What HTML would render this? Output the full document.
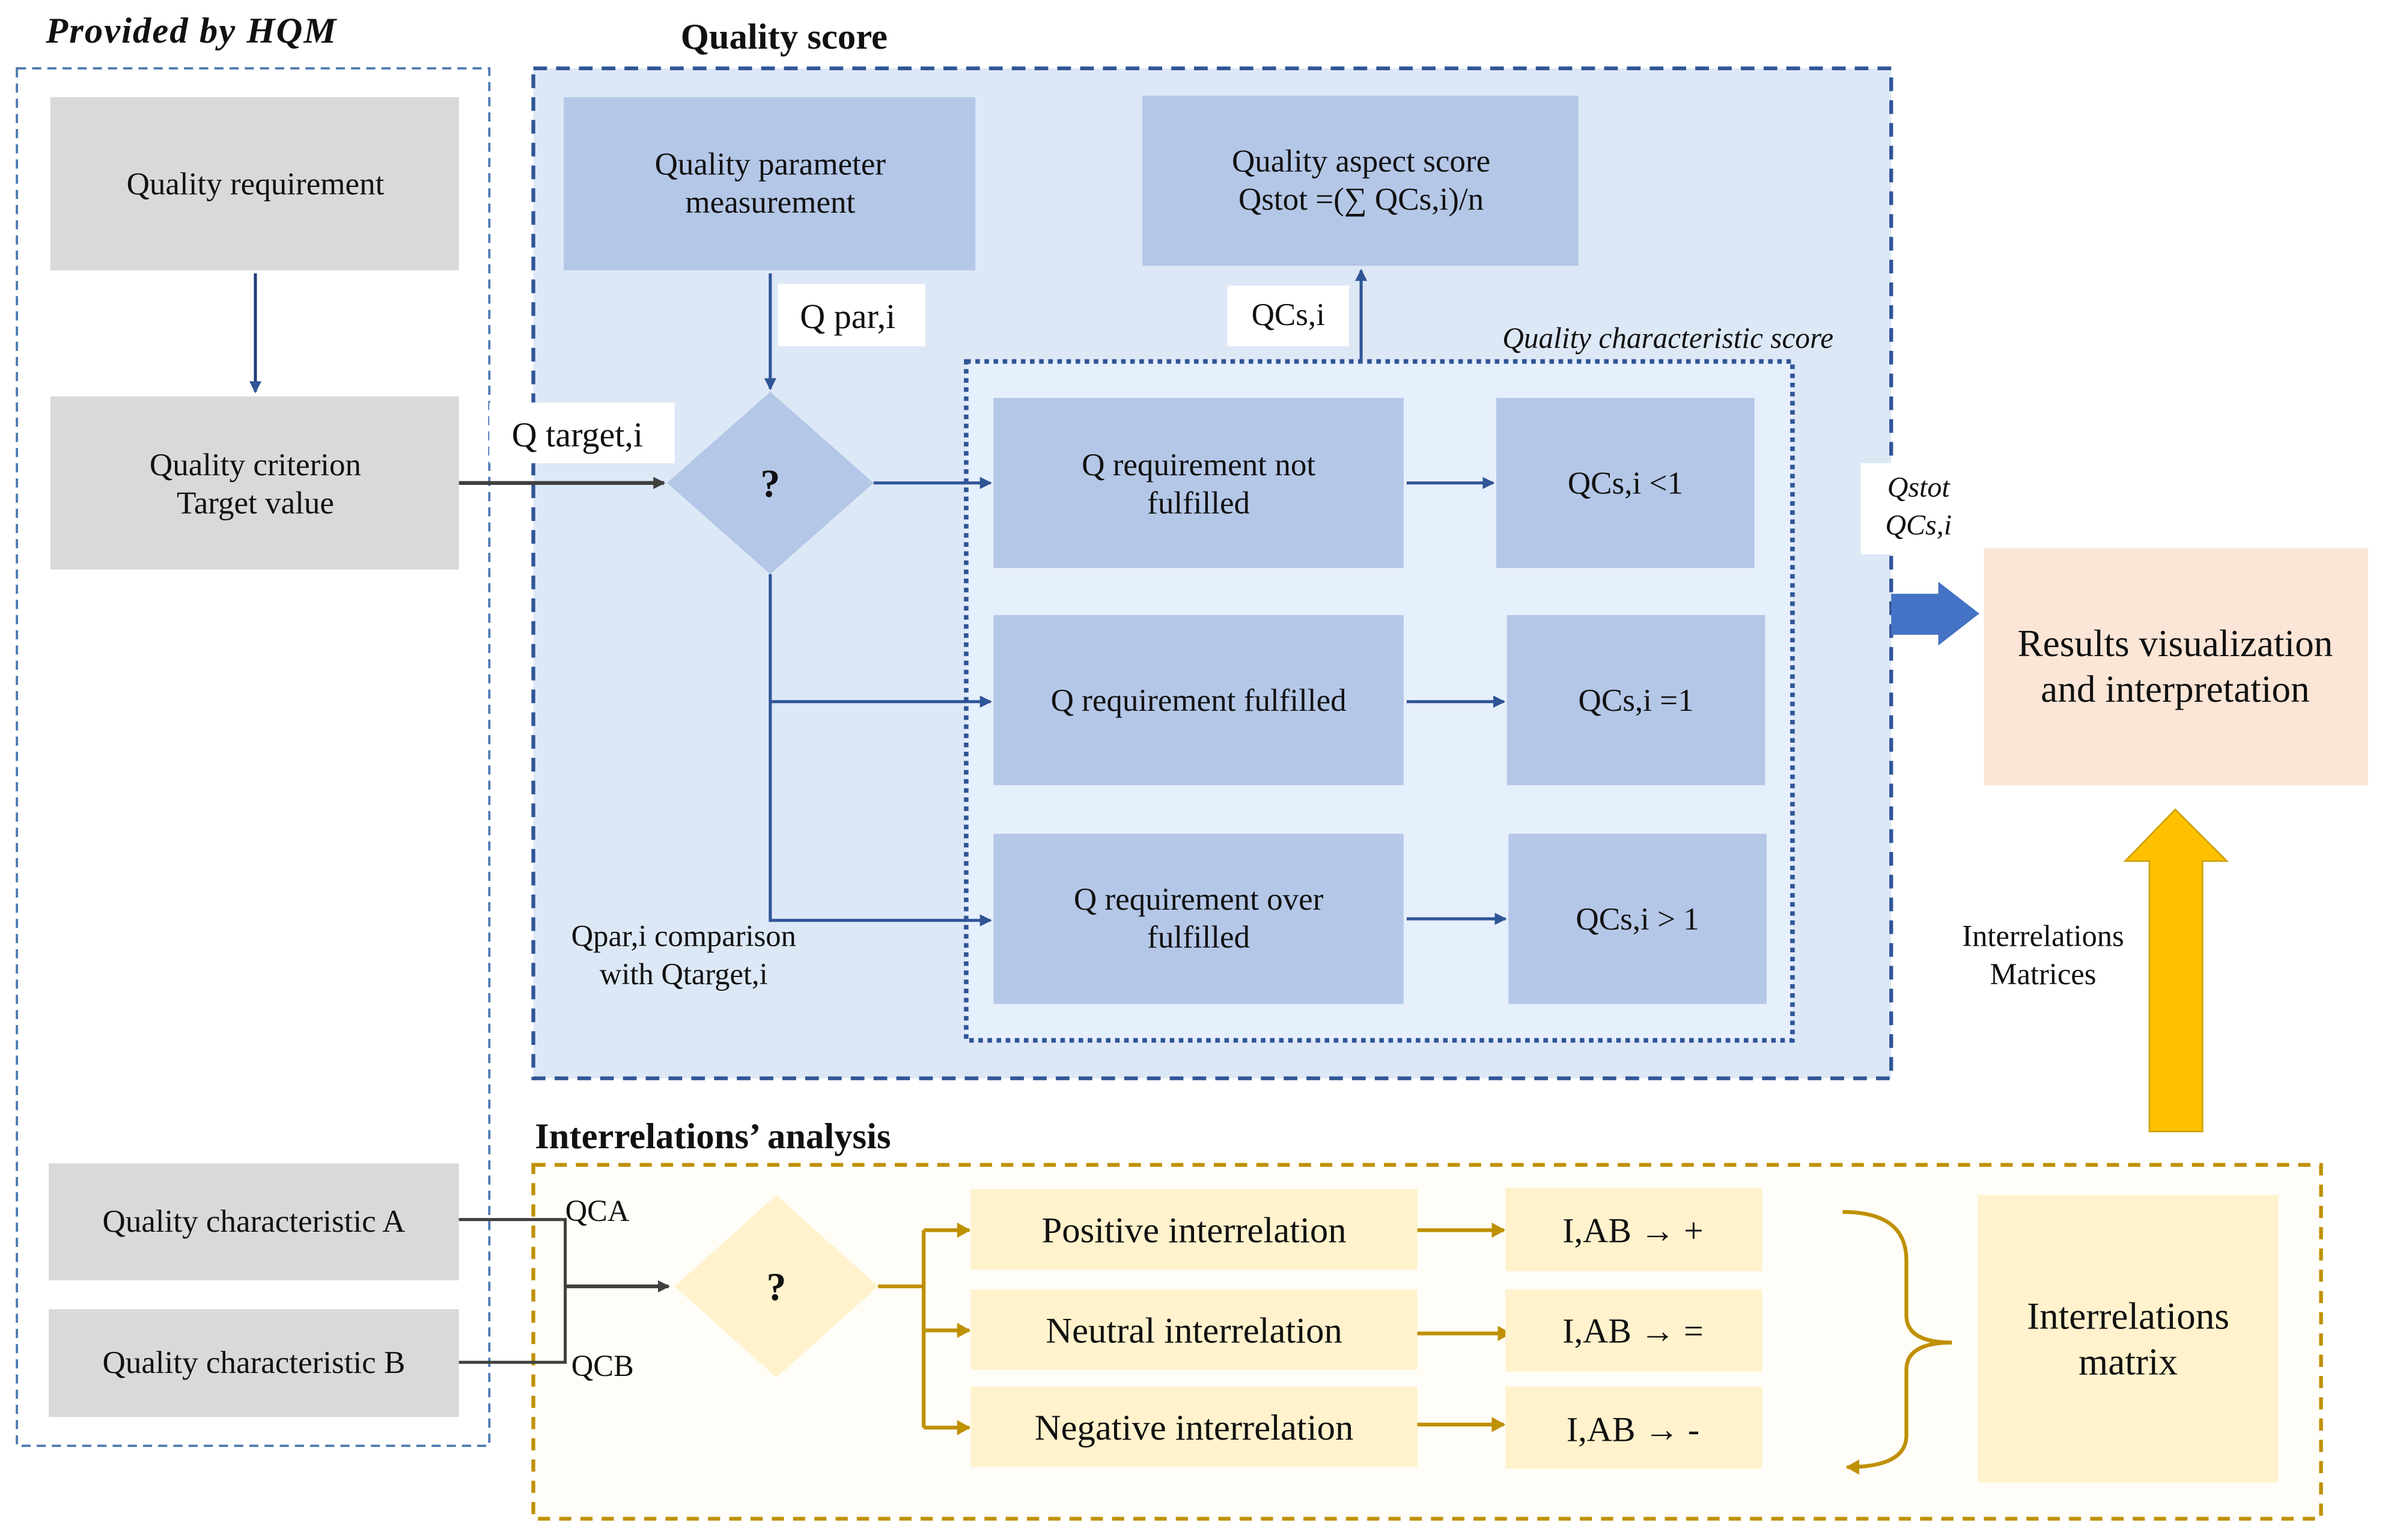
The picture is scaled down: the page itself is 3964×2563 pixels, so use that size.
<!DOCTYPE html>
<html><head><meta charset="utf-8"><style>
html,body{margin:0;padding:0;background:#fff}
svg{display:block}
text{font-family:"Liberation Serif",serif;fill:#111}
</style></head><body>
<svg width="3964" height="2563" viewBox="0 0 1568 1014" xmlns="http://www.w3.org/2000/svg">
<defs>
<marker id="ab" markerWidth="8" markerHeight="8" refX="7" refY="4" orient="auto" markerUnits="userSpaceOnUse"><path d="M0,0 L8,4 L0,8 z" fill="#2f5597"/></marker>
<marker id="ag" markerWidth="8" markerHeight="8" refX="7" refY="4" orient="auto" markerUnits="userSpaceOnUse"><path d="M0,0 L8,4 L0,8 z" fill="#404040"/></marker>
<marker id="ay" markerWidth="9" markerHeight="10" refX="8" refY="5" orient="auto" markerUnits="userSpaceOnUse"><path d="M0,0 L9,5 L0,10 z" fill="#bf9000"/></marker>
</defs>
<text x="30" y="28" font-size="24" font-style="italic" font-weight="bold" letter-spacing="0.8">Provided by HQM</text>
<text x="448" y="32" font-size="24" font-weight="bold">Quality score</text>
<text x="352" y="756" font-size="24" font-weight="bold">Interrelations’ analysis</text>

<rect x="11" y="45" width="311" height="907" fill="none" stroke="#4a7ab0" stroke-width="1.5" stroke-dasharray="6,4"/>
<rect x="351" y="45" width="894" height="665" fill="#dde8f6" stroke="#2f5597" stroke-width="2.5" stroke-dasharray="9,6"/>
<rect x="636" y="238" width="544" height="447" fill="#e6effc" stroke="#2f5597" stroke-width="3" stroke-dasharray="3,3"/>
<text x="1207" y="229" font-size="19.5" font-style="italic" text-anchor="end">Quality characteristic score</text>

<rect x="33" y="64" width="269" height="114" fill="#d9d9d9"/>
<text x="168" y="128" font-size="21" text-anchor="middle">Quality requirement</text>
<line x1="168" y1="180" x2="168" y2="258" stroke="#1f3d7a" stroke-width="2" marker-end="url(#ab)"/>
<rect x="33" y="261" width="269" height="114" fill="#d9d9d9"/>
<text x="168" y="313" font-size="21" text-anchor="middle">Quality criterion</text>
<text x="168" y="338" font-size="21" text-anchor="middle">Target value</text>

<rect x="371" y="64" width="271" height="114" fill="#b4c7e7"/>
<text x="507" y="115" font-size="21" text-anchor="middle">Quality parameter</text>
<text x="507" y="140" font-size="21" text-anchor="middle">measurement</text>
<rect x="752" y="63" width="287" height="112" fill="#b4c7e7"/>
<text x="896" y="113" font-size="21" text-anchor="middle">Quality aspect score</text>
<text x="896" y="138" font-size="21" text-anchor="middle">Qstot =(∑ QCs,i)/n</text>

<line x1="507" y1="180" x2="507" y2="256" stroke="#2f5597" stroke-width="2" marker-end="url(#ab)"/>
<rect x="512" y="187" width="97" height="41" fill="#fff"/>
<text x="558" y="216" font-size="23" text-anchor="middle">Q par,i</text>
<rect x="322" y="265" width="122" height="40" fill="#fff"/>
<line x1="302" y1="318" x2="437" y2="318" stroke="#404040" stroke-width="2.5" marker-end="url(#ag)"/>
<text x="380" y="294" font-size="23" text-anchor="middle">Q target,i</text>
<polygon points="507,258 575,318 507,378 439,318" fill="#b4c7e7"/>
<text x="507" y="327" font-size="26" font-weight="bold" text-anchor="middle">?</text>
<rect x="808" y="188" width="80" height="40" fill="#fff"/>
<text x="848" y="214" font-size="21" text-anchor="middle">QCs,i</text>
<line x1="896" y1="238" x2="896" y2="178" stroke="#2f5597" stroke-width="2" marker-end="url(#ab)"/>

<g stroke="#2f5597" stroke-width="2" fill="none">
<line x1="575" y1="318" x2="652" y2="318" marker-end="url(#ab)"/>
<polyline points="507,378 507,606 652,606" marker-end="url(#ab)"/>
<line x1="507" y1="462" x2="652" y2="462" marker-end="url(#ab)"/>
<line x1="926" y1="318" x2="983" y2="318" marker-end="url(#ab)"/>
<line x1="926" y1="462" x2="990" y2="462" marker-end="url(#ab)"/>
<line x1="926" y1="605" x2="991" y2="605" marker-end="url(#ab)"/>
</g>
<rect x="654" y="262" width="270" height="112" fill="#b4c7e7"/>
<text x="789" y="313" font-size="21" text-anchor="middle">Q requirement not</text>
<text x="789" y="338" font-size="21" text-anchor="middle">fulfilled</text>
<rect x="985" y="262" width="170" height="112" fill="#b4c7e7"/>
<text x="1070" y="325" font-size="21" text-anchor="middle">QCs,i &lt;1</text>
<rect x="654" y="405" width="270" height="112" fill="#b4c7e7"/>
<text x="789" y="468" font-size="21" text-anchor="middle">Q requirement fulfilled</text>
<rect x="992" y="405" width="170" height="112" fill="#b4c7e7"/>
<text x="1077" y="468" font-size="21" text-anchor="middle">QCs,i =1</text>
<rect x="654" y="549" width="270" height="112" fill="#b4c7e7"/>
<text x="789" y="599" font-size="21" text-anchor="middle">Q requirement over</text>
<text x="789" y="624" font-size="21" text-anchor="middle">fulfilled</text>
<rect x="993" y="549" width="170" height="112" fill="#b4c7e7"/>
<text x="1078" y="612" font-size="21" text-anchor="middle">QCs,i &gt; 1</text>
<text x="450" y="623" font-size="20" text-anchor="middle">Qpar,i comparison</text>
<text x="450" y="648" font-size="20" text-anchor="middle">with Qtarget,i</text>

<rect x="1225" y="305" width="75" height="60" fill="#fff"/>
<text x="1263" y="327" font-size="19" font-style="italic" text-anchor="middle">Qstot</text>
<text x="1263" y="352" font-size="19" font-style="italic" text-anchor="middle">QCs,i</text>
<polygon points="1245,391 1276,391 1276,383 1303,404 1276,425 1276,418 1245,418" fill="#4472c4"/>
<rect x="1306" y="361" width="253" height="156" fill="#fbe5d6"/>
<text x="1432" y="432" font-size="25" text-anchor="middle">Results visualization</text>
<text x="1432" y="462" font-size="25" text-anchor="middle">and interpretation</text>
<polygon points="1415,745 1415,567 1399,567 1432,533 1466,567 1450,567 1450,745" fill="#ffc000" stroke="#c9a000" stroke-width="1"/>
<text x="1345" y="623" font-size="20" text-anchor="middle">Interrelations</text>
<text x="1345" y="648" font-size="20" text-anchor="middle">Matrices</text>

<rect x="351" y="767" width="1177" height="233" fill="#fffdf7" stroke="#bf9000" stroke-width="2.5" stroke-dasharray="8,6"/>
<rect x="32" y="766" width="270" height="77" fill="#d9d9d9"/>
<text x="167" y="811" font-size="21" text-anchor="middle">Quality characteristic A</text>
<rect x="32" y="862" width="270" height="71" fill="#d9d9d9"/>
<text x="167" y="904" font-size="21" text-anchor="middle">Quality characteristic B</text>
<g stroke="#404040" stroke-width="2" fill="none">
<polyline points="302,803 372,803 372,897 302,897"/>
<line x1="372" y1="847" x2="440" y2="847" stroke-width="2.5" marker-end="url(#ag)"/>
</g>
<text x="372" y="804" font-size="20">QCA</text>
<text x="376" y="906" font-size="20">QCB</text>
<polygon points="511,787 578,847 511,907 444,847" fill="#fff2cc"/>
<text x="511" y="856" font-size="26" font-weight="bold" text-anchor="middle">?</text>
<g stroke="#bf9000" stroke-width="2.5" fill="none">
<line x1="578" y1="847" x2="608" y2="847"/>
<line x1="608" y1="810" x2="608" y2="940"/>
<line x1="608" y1="810" x2="638" y2="810" marker-end="url(#ay)"/>
<line x1="608" y1="876" x2="638" y2="876" marker-end="url(#ay)"/>
<line x1="608" y1="940" x2="638" y2="940" marker-end="url(#ay)"/>
<line x1="918" y1="810" x2="990" y2="810" marker-end="url(#ay)"/>
<line x1="918" y1="878" x2="994" y2="878" marker-end="url(#ay)"/>
<line x1="915" y1="938" x2="990" y2="938" marker-end="url(#ay)"/>
<path d="M1213,798 Q1255,798 1255,830 L1255,866 Q1255,884 1285,884 Q1255,884 1255,902 L1255,945 Q1255,966 1216,966" marker-end="url(#ay)"/>
</g>
<rect x="639" y="783" width="294" height="53" fill="#fff2cc"/>
<text x="786" y="818" font-size="24" text-anchor="middle">Positive interrelation</text>
<rect x="639" y="849" width="294" height="53" fill="#fff2cc"/>
<text x="786" y="884" font-size="24" text-anchor="middle">Neutral interrelation</text>
<rect x="639" y="913" width="294" height="53" fill="#fff2cc"/>
<text x="786" y="948" font-size="24" text-anchor="middle">Negative interrelation</text>
<rect x="991" y="782" width="169" height="55" fill="#fff2cc"/>
<text x="1075" y="818" font-size="23" text-anchor="middle">I,AB → +</text>
<rect x="991" y="849" width="169" height="54" fill="#fff2cc"/>
<text x="1075" y="884" font-size="23" text-anchor="middle">I,AB → =</text>
<rect x="991" y="913" width="169" height="54" fill="#fff2cc"/>
<text x="1075" y="949" font-size="23" text-anchor="middle">I,AB → -</text>
<rect x="1302" y="787" width="198" height="189" fill="#fff2cc"/>
<text x="1401" y="875" font-size="25" text-anchor="middle">Interrelations</text>
<text x="1401" y="905" font-size="25" text-anchor="middle">matrix</text>
</svg>
</body></html>
